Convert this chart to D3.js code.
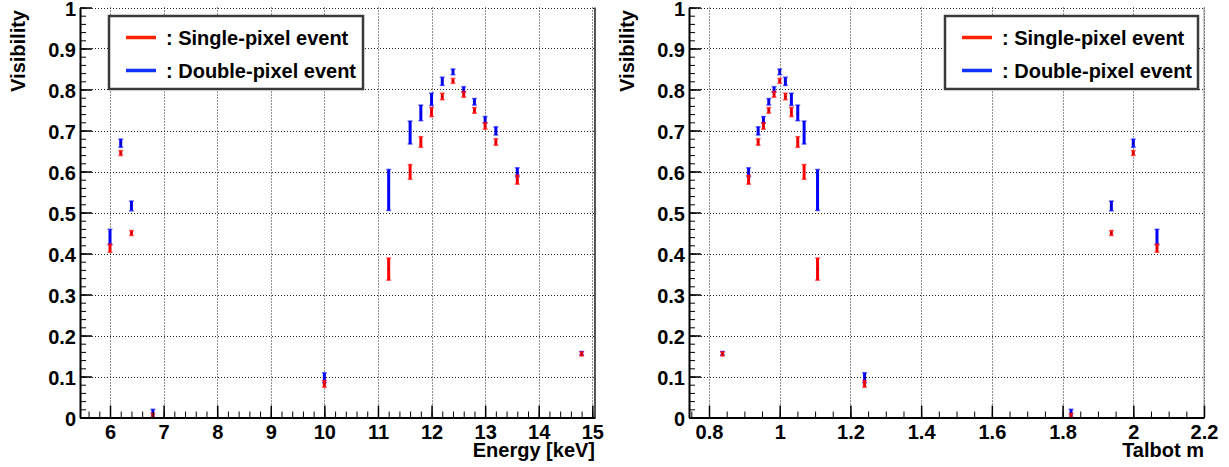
<!DOCTYPE html>
<html>
<head>
<meta charset="utf-8">
<script src="https://cdn.jsdelivr.net/npm/d3@7"></script>
<style>
  body { margin: 0; background: #fff; }
  svg { display: block; font-family: 'Liberation Sans', Arial, Helvetica, sans-serif; font-weight: bold; }
</style>
</head>
<body>
<svg id="chart" width="1229" height="467"></svg>
<script>
// beam energy of each measurement and the matching Talbot order
const energies = [6.0, 6.2, 6.4, 6.8, 10.0, 11.2, 11.6, 11.8, 12.0, 12.2, 12.4, 12.6, 12.8, 13.0, 13.2, 13.6, 14.8]
const talbotM = [2.067, 2.0, 1.938, 1.824, 1.24, 1.107, 1.069, 1.051, 1.033, 1.016, 1.0, 0.984, 0.969, 0.954, 0.939, 0.912, 0.838]

// visibility and its error, single-pixel events
const singleVis = [0.413, 0.645, 0.450, 0.004, 0.082, 0.362, 0.599, 0.672, 0.745, 0.783, 0.821, 0.788, 0.749, 0.711, 0.672, 0.580, 0.155]
const singleErr = [0.010, 0.006, 0.006, 0.006, 0.008, 0.027, 0.018, 0.013, 0.011, 0.008, 0.006, 0.007, 0.007, 0.008, 0.008, 0.011, 0.005]

// visibility and its error, double-pixel events
const doubleVis = [0.440, 0.669, 0.516, 0.010, 0.097, 0.555, 0.695, 0.743, 0.776, 0.820, 0.843, 0.800, 0.770, 0.726, 0.699, 0.598, 0.157]
const doubleErr = [0.019, 0.010, 0.012, 0.010, 0.012, 0.050, 0.028, 0.019, 0.015, 0.010, 0.007, 0.007, 0.008, 0.008, 0.010, 0.011, 0.004]

const yTicks = [0, 0.1, 0.2, 0.3, 0.4, 0.5, 0.6, 0.7, 0.8, 0.9, 1]
const energyTicks = [6, 7, 8, 9, 10, 11, 12, 13, 14, 15]
const talbotTicks = [0.8, 1, 1.2, 1.4, 1.6, 1.8, 2, 2.2]

const seriesNames = [': Single-pixel event', ': Double-pixel event']
const red = '#ff0000'
const blue = '#0000ff'

const svg = d3.select('#chart')

const fontSize = 20

const panels = [
  {
    id: 'energy',
    xs: energies,
    domain: [5.44, 15.05],
    range: [80, 595],
    ticks: energyTicks,
    minorStep: 0.2,
    title: 'Energy [keV]',
    legendX: 109,
    legendW: 254,
    solidRight: true
  },
  {
    id: 'talbot',
    xs: talbotM,
    domain: [0.7434, 2.2],
    range: [689, 1204],
    ticks: talbotTicks,
    minorStep: 0.05,
    title: 'Talbot m',
    legendX: 945,
    legendW: 253,
    solidRight: false
  }
]

const minorValues = (lo, hi, step) => {
  const out = []
  const n0 = Math.ceil(lo / step - 1e-6)
  const n1 = Math.floor(hi / step + 1e-6)
  for (let i = n0; i <= n1; i++) out.push(+(i * step).toFixed(4))
  return out
}

const drawPanel = (p) => {
  const x = d3.scaleLinear().domain(p.domain).range(p.range)
  const y = d3.scaleLinear().domain([0, 1]).range([417.5, 7.5])
  const g = svg.append('g').attr('class', 'panel-' + p.id)
  const [x0, x1] = p.range
  const [y0, y1] = y.range()

  g.append('clipPath').attr('id', 'clip-' + p.id)
    .append('rect')
    .attr('x', x0).attr('y', y1)
    .attr('width', x1 - x0).attr('height', y0 - y1)

  // frame right side
  g.append('line')
    .attr('x1', x1).attr('x2', x1).attr('y1', y1).attr('y2', y0)
    .attr('stroke', p.solidRight ? '#555' : '#999')
    .attr('stroke-width', p.solidRight ? 2 : 1)

  // dotted grid
  const grid = g.append('g').attr('stroke', '#222').attr('stroke-width', 1).attr('stroke-dasharray', '1,2')
  grid.selectAll('.vgrid').data(p.ticks).enter().append('line')
    .attr('x1', d => Math.round(x(d)) + 0.5).attr('x2', d => Math.round(x(d)) + 0.5)
    .attr('y1', y1).attr('y2', y0)
  grid.selectAll('.hgrid').data(yTicks).enter().append('line')
    .attr('x1', x0).attr('x2', x1)
    .attr('y1', d => Math.round(y(d)) + 0.5).attr('y2', d => Math.round(y(d)) + 0.5)

  // error bars, blue first so red sits on top
  const series = [
    { vis: doubleVis, err: doubleErr, color: blue },
    { vis: singleVis, err: singleErr, color: red }
  ]
  const data = g.append('g').attr('clip-path', 'url(#clip-' + p.id + ')')
  series.forEach(s => {
    const pts = p.xs.map((xv, i) => ({ x: xv, v: s.vis[i], e: s.err[i] }))
    const bars = data.append('g').selectAll('g').data(pts).enter().append('g')
    bars.append('line')
      .attr('x1', d => x(d.x)).attr('x2', d => x(d.x))
      .attr('y1', d => y(d.v - d.e)).attr('y2', d => y(d.v + d.e))
      .attr('stroke', s.color).attr('stroke-width', 3)
    bars.selectAll('.cap').data(d => [[d.x, d.v - d.e], [d.x, d.v + d.e]]).enter().append('line')
      .attr('x1', d => x(d[0]) - 2.5).attr('x2', d => x(d[0]) + 2.5)
      .attr('y1', d => y(d[1])).attr('y2', d => y(d[1]))
      .attr('stroke', s.color).attr('stroke-width', 1.5).attr('opacity', 0.6)
    bars.append('rect')
      .attr('x', d => x(d.x) - 0.5).attr('y', d => y(d.v) - 0.5)
      .attr('width', 1).attr('height', 1)
      .attr('fill', '#400')
  })

  // axes: ticks point into the frame
  const xMinor = minorValues(p.domain[0], p.domain[1], p.minorStep)
  const yMinor = minorValues(0, 1, 0.02)

  g.append('g').attr('transform', `translate(0,${y0})`)
    .call(d3.axisBottom(x).tickValues(xMinor).tickSizeInner(-6).tickSizeOuter(0).tickFormat(''))
    .call(a => a.select('.domain').remove())
  g.append('g').attr('transform', `translate(${x0},0)`)
    .call(d3.axisLeft(y).tickValues(yMinor).tickSizeInner(-6).tickSizeOuter(0).tickFormat(''))
    .call(a => a.select('.domain').remove())

  const xAxis = g.append('g').attr('transform', `translate(0,${y0})`)
    .call(d3.axisBottom(x).tickValues(p.ticks).tickSizeInner(-12).tickSizeOuter(0).tickPadding(7).tickFormat(d => String(d)))
  xAxis.select('.domain').attr('stroke-width', 2)
  xAxis.selectAll('text').style('font-size', fontSize + 'px').attr('fill', '#000')

  const yAxis = g.append('g').attr('transform', `translate(${x0},0)`)
    .call(d3.axisLeft(y).tickValues(yTicks).tickSizeInner(-12).tickSizeOuter(0).tickPadding(4).tickFormat(d => String(d)))
  yAxis.select('.domain').attr('stroke-width', 2)
  yAxis.selectAll('text').style('font-size', fontSize + 'px').attr('fill', '#000').attr('dy', '0.42em')
  yAxis.selectAll('.tick line').attr('stroke-width', 1.5)
  xAxis.selectAll('.tick line').attr('stroke-width', 1.5)

  // axis titles
  g.append('text')
    .attr('x', x1).attr('y', 457)
    .attr('text-anchor', 'end')
    .style('font-size', fontSize + 'px')
    .text(p.title)
  g.append('text')
    .attr('transform', `translate(${x0 - 55.5},10) rotate(-90)`)
    .attr('text-anchor', 'end')
    .style('font-size', fontSize + 'px')
    .text('Visibility')

  // legend
  const lg = g.append('g').attr('transform', `translate(${p.legendX},16)`)
  lg.append('rect')
    .attr('width', p.legendW).attr('height', 73)
    .attr('fill', '#fff').attr('stroke', '#3a3a3a').attr('stroke-width', 2.5)
  const rows = [{ name: seriesNames[0], color: '#ff2200' }, { name: seriesNames[1], color: '#1133ff' }]
  rows.forEach((r, i) => {
    const ly = 21.5 + i * 33
    lg.append('line')
      .attr('x1', 17).attr('x2', 47).attr('y1', ly).attr('y2', ly)
      .attr('stroke', r.color).attr('stroke-width', 3.5)
    lg.append('text')
      .attr('x', 57).attr('y', ly + 7)
      .style('font-size', fontSize + 'px')
      .text(r.name)
  })
}

panels.forEach(drawPanel)
</script>
</body>
</html>
